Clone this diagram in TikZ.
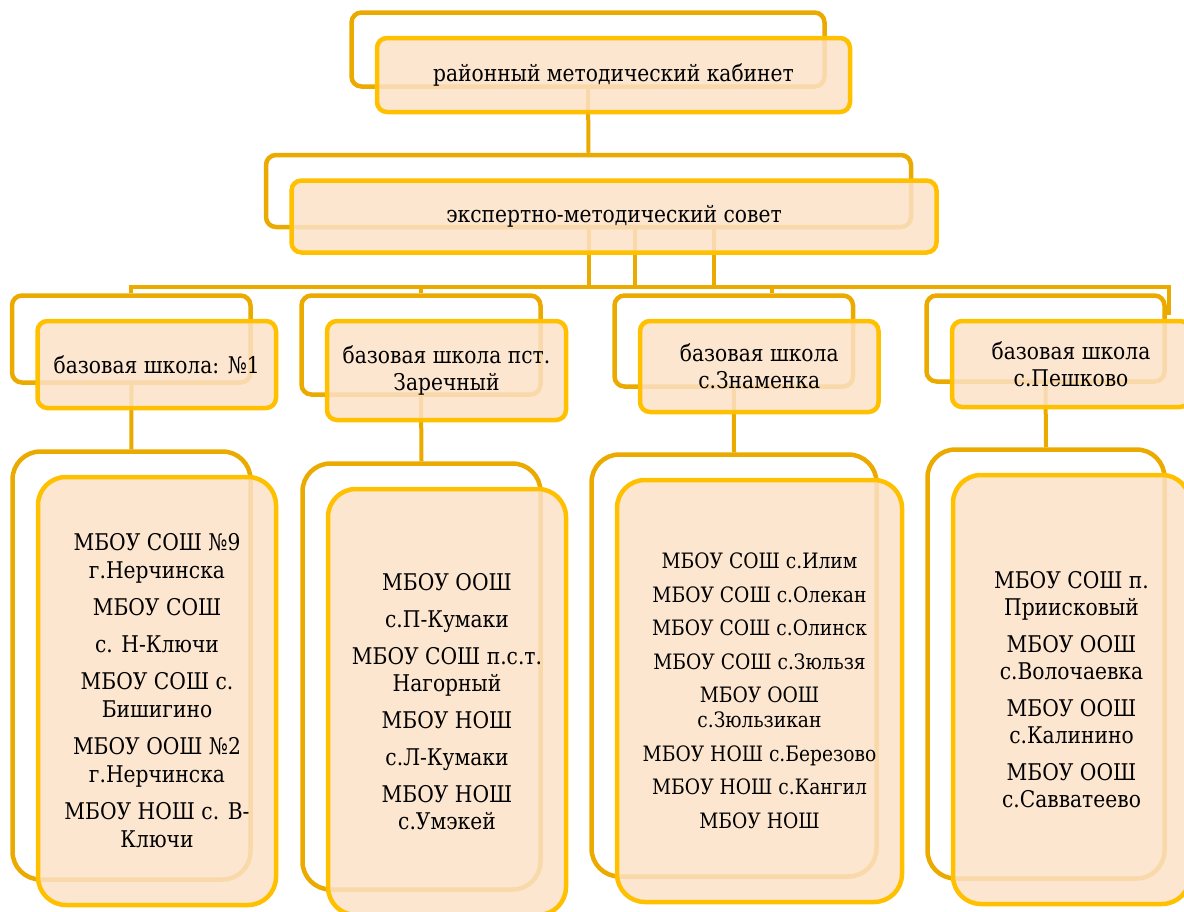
\documentclass[tikz,border=0pt]{standalone}
\usepackage{fontspec}
\newfontfamily\boxfont[FakeStretch=0.88]{DejaVu Serif}
\usetikzlibrary{positioning}
\definecolor{framegold}{RGB}{234,170,0}
\definecolor{boxgold}{RGB}{255,192,0}
\definecolor{boxpeach}{RGB}{252,226,200}
\tikzset{x=1pt, y=-1pt,
         backbox/.style={draw=framegold, line width=4.5pt, fill=white,
                         rounded corners=10pt, inner sep=0pt},
         frontbox/.style={draw=boxgold, line width=4.5pt, fill=boxpeach,
                          fill opacity=0.85, text opacity=1, rounded corners=10pt,
                          align=center, inner sep=0pt,
                          font=\boxfont\fontsize{23}{27}\selectfont},
         tallbox/.style={rounded corners=28pt},
         link/.style={draw=framegold, line width=4pt} }

\begin{document}
\begin{tikzpicture}
    \useasboundingbox (0,0) rectangle (1184,911);
    % back frames
    \node[backbox, minimum width=473, minimum height=74] (rmk-b) at (588,49.5) {};
    \node[backbox, minimum width=645, minimum height=72] (ems-b) at (588.5,191) {};
    \node[backbox, minimum width=238.5, minimum height=87] (b1-b) at (131.25,339) {};
    \node[backbox, minimum width=239, minimum height=99] (b2-b) at (421,345) {};
    \node[backbox, minimum width=238.5, minimum height=91] (b3-b) at (733.75,341) {};
    \node[backbox, minimum width=238, minimum height=86] (b4-b) at (1045.5,338.5) {};
    \node[backbox, tallbox, minimum width=238, minimum height=428] (s1-b) at (131.5,665.5) {};
    \node[backbox, tallbox, minimum width=238, minimum height=426] (s2-b) at (421.5,676.5) {};
    \node[backbox, tallbox, minimum width=285, minimum height=422] (s3-b) at (734,665.5) {};
    \node[backbox, tallbox, minimum width=237, minimum height=429] (s4-b) at (1046,664) {};

    % connectors
    \coordinate (busL) at (131.25,287);
    \coordinate (busR) at (1169,287);
    \coordinate (busE) at (1169,315);
    \draw[link] (rmk-b.south) -- (ems-b.north);
    \foreach \dx in {0,46,125}
      \draw[link] ([xshift=\dx]ems-b.south) -- ([xshift=\dx]ems-b.south |- busL);
    \draw[link] (b1-b.north) -- (busL) -- (busR) -- (busE);
    \draw[link] (b2-b.north) -- (b2-b.north |- busL);
    \draw[link] ([xshift=38]b3-b.north) -- ([xshift=38]b3-b.north |- busL);
    \foreach \n in {1,...,4}
      \draw[link] (b\n-b.south) -- (s\n-b.north);

    % front boxes
    \node[frontbox, minimum width=473, minimum height=74] (rmk) at ([shift={(25.5,25.5)}]rmk-b) {районный методический кабинет};
    \node[frontbox, minimum width=645, minimum height=72] (ems) at ([shift={(25.5,25.5)}]ems-b) {экспертно-методический совет};
    \node[frontbox, minimum width=238.5, minimum height=87] (b1) at ([shift={(25.5,25.5)}]b1-b) {базовая школа: №1};
    \node[frontbox, minimum width=239, minimum height=99] (b2) at ([shift={(25.5,25.5)}]b2-b) {базовая школа пст.\\Заречный};
    \node[frontbox, minimum width=238.5, minimum height=91] (b3) at ([shift={(25.5,25.5)}]b3-b) {базовая школа\\с.Знаменка};
    \node[frontbox, minimum width=238, minimum height=86] (b4) at ([shift={(25.5,25.5)}]b4-b) {базовая школа\\с.Пешково};
    \node[frontbox, tallbox, minimum width=238, minimum height=428, font=\boxfont\fontsize{23}{28}\selectfont] (s1) at ([shift={(25.5,25.5)}]s1-b)
      {МБОУ СОШ №9\\г.Нерчинска\\[9pt] МБОУ СОШ\\[9pt] с. Н-Ключи\\[9pt] МБОУ СОШ с.\\Бишигино\\[9pt]
       МБОУ ООШ №2\\г.Нерчинска\\[9pt] МБОУ НОШ с. В-\\Ключи};
    \node[frontbox, tallbox, minimum width=238, minimum height=426] (s2) at ([shift={(25.5,25.5)}]s2-b)
      {МБОУ ООШ\\[10pt] с.П-Кумаки\\[10pt] МБОУ СОШ п.с.т.\\Нагорный\\[10pt] МБОУ НОШ\\[10pt]
       с.Л-Кумаки\\[10pt] МБОУ НОШ\\с.Умэкей};
    \node[frontbox, tallbox, minimum width=285, minimum height=422, font=\boxfont\fontsize{21.2}{25}\selectfont] (s3) at ([shift={(25.5,25.5)}]s3-b)
      {МБОУ СОШ с.Илим\\[8.5pt] МБОУ СОШ с.Олекан\\[8.5pt] МБОУ СОШ с.Олинск\\[8.5pt] МБОУ СОШ с.Зюльзя\\[8.5pt]
       МБОУ ООШ\\с.Зюльзикан\\[8.5pt] МБОУ НОШ с.Березово\\[8.5pt] МБОУ НОШ с.Кангил\\[8.5pt] МБОУ НОШ};
    \node[frontbox, tallbox, minimum width=237, minimum height=429] (s4) at ([shift={(25.5,25.5)}]s4-b)
      {МБОУ СОШ п.\\Приисковый\\[10pt] МБОУ ООШ\\с.Волочаевка\\[10pt] МБОУ ООШ\\с.Калинино\\[10pt]
       МБОУ ООШ\\с.Савватеево};
\end{tikzpicture}
\end{document}
